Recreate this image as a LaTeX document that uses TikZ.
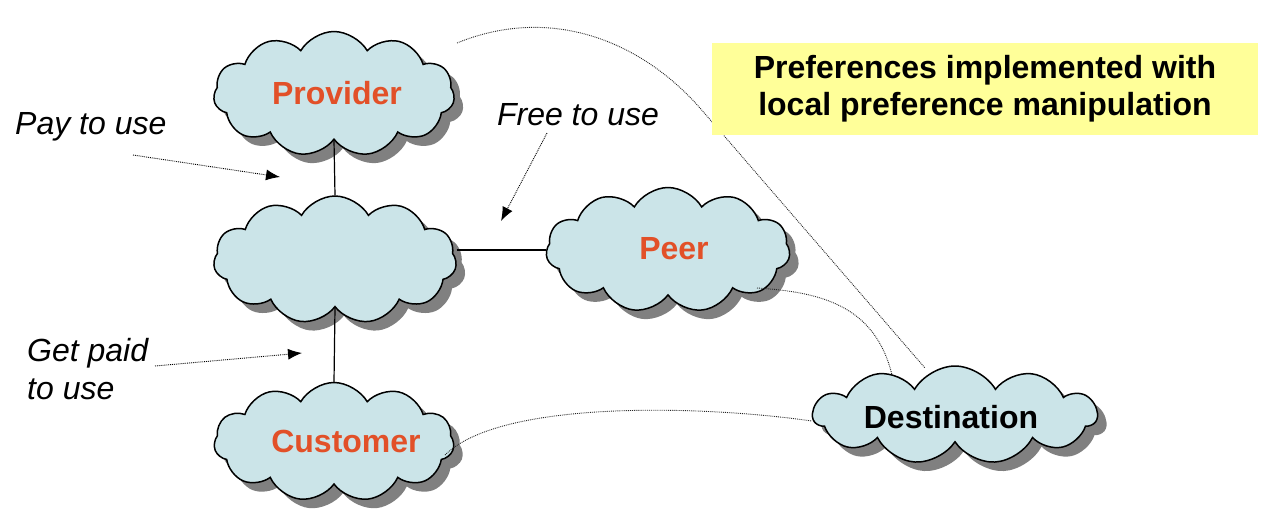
\documentclass[tikz,border=0pt]{standalone}
\usepackage{fontspec}
\setmainfont{Liberation Sans}
\usetikzlibrary{shapes.symbols,shadows,arrows.meta}
\definecolor{cloudfill}{RGB}{203,228,232}
\definecolor{orangetxt}{RGB}{226,80,40}
\definecolor{notefill}{RGB}{255,255,153}
\begin{document}
\begin{tikzpicture}[x=1pt,y=-1pt,
  cloudnode/.style={cloud, cloud puffs=11, cloud puff arc=120, cloud ignores aspect,
    draw=black, line width=1.5pt, fill=cloudfill, inner sep=0pt,
    drop shadow={shadow xshift=9pt, shadow yshift=-9pt, fill=black!50, opacity=1}},
  cloudlabel/.style={font=\fontsize{32}{38}\selectfont\bfseries, text=orangetxt, inner sep=0pt},
  note/.style={font=\fontsize{32}{38}\selectfont\itshape, inner sep=0pt, align=left},
  link/.style={line width=1.2pt, black},
  dots/.style={line width=0.9pt, densely dotted, black!85},
  ptr/.style={line width=0.9pt, densely dotted, black, -{Latex[length=14pt,width=11pt]}}
]
\useasboundingbox (0,0) rectangle (1266,528);

% clouds
\node[cloudnode, minimum width=241pt, minimum height=125pt] (prov) at (334,94) {};
\node[cloudnode, minimum width=243pt, minimum height=128pt] (mid) at (335,260) {};
\node[cloudnode, minimum width=240pt, minimum height=119pt] (cust) at (334,442) {};
\node[cloudnode, minimum width=244pt, minimum height=125pt] (peer) at (668,250) {};
\node[cloudnode, minimum width=284pt, minimum height=98pt] (dest) at (955,415) {};

\node[cloudlabel] (provT) at (337,93) {Provider};
\node[cloudlabel] (custT) at (346,441) {Customer};
\node[cloudlabel] (peerT) at (674,249) {Peer};
\node[cloudlabel, text=black] (destT) at (951,417) {Destination};

% solid links
\draw[link] (prov.south) -- (mid.north);
\draw[link] (mid.south) -- (cust.north);
\draw[link] (peer.west -| mid.east) -- (peer.west);

% dotted curves to destination
\coordinate (c1s) at (457,43);
\coordinate (c1m) at (700,108);
\coordinate (c1e) at (925,368);
\draw[dots] (c1s) .. controls (550,5) and (640,40) .. (c1m) -- (c1e);
\coordinate (c2s) at (757,288);
\coordinate (c2e) at (892,375);
\draw[dots] (c2s) .. controls (820,292) and (875,305) .. (c2e);
\coordinate (c3s) at (445,455);
\coordinate (c3e) at (812,421);
\draw[dots] (c3s) .. controls (500,400) and (700,405) .. (c3e);

% yellow note box
\node[fill=notefill, minimum width=546pt, minimum height=92pt, inner sep=0pt,
      font=\fontsize{32}{37}\selectfont\bfseries, align=center] (box) at (985,89)
  {Preferences implemented with\\local preference manipulation};

% labels and pointers
\node[note, anchor=west] (pay) at (15,127) {Pay to use};
\node[note] (free) at (578,115) {Free to use};
\node[note, anchor=west, align=left] (paid) at (27,369) {Get paid\\to use};

\coordinate (payS) at (133,155);
\coordinate (payE) at (280,177);
\draw[ptr] (payS) -- (payE);
\coordinate (freeS) at (547,133);
\coordinate (freeE) at (501,221);
\draw[ptr] (freeS) -- (freeE);
\coordinate (paidS) at (155,366);
\coordinate (paidE) at (302,353);
\draw[ptr] (paidS) -- (paidE);
\end{tikzpicture}
\end{document}
